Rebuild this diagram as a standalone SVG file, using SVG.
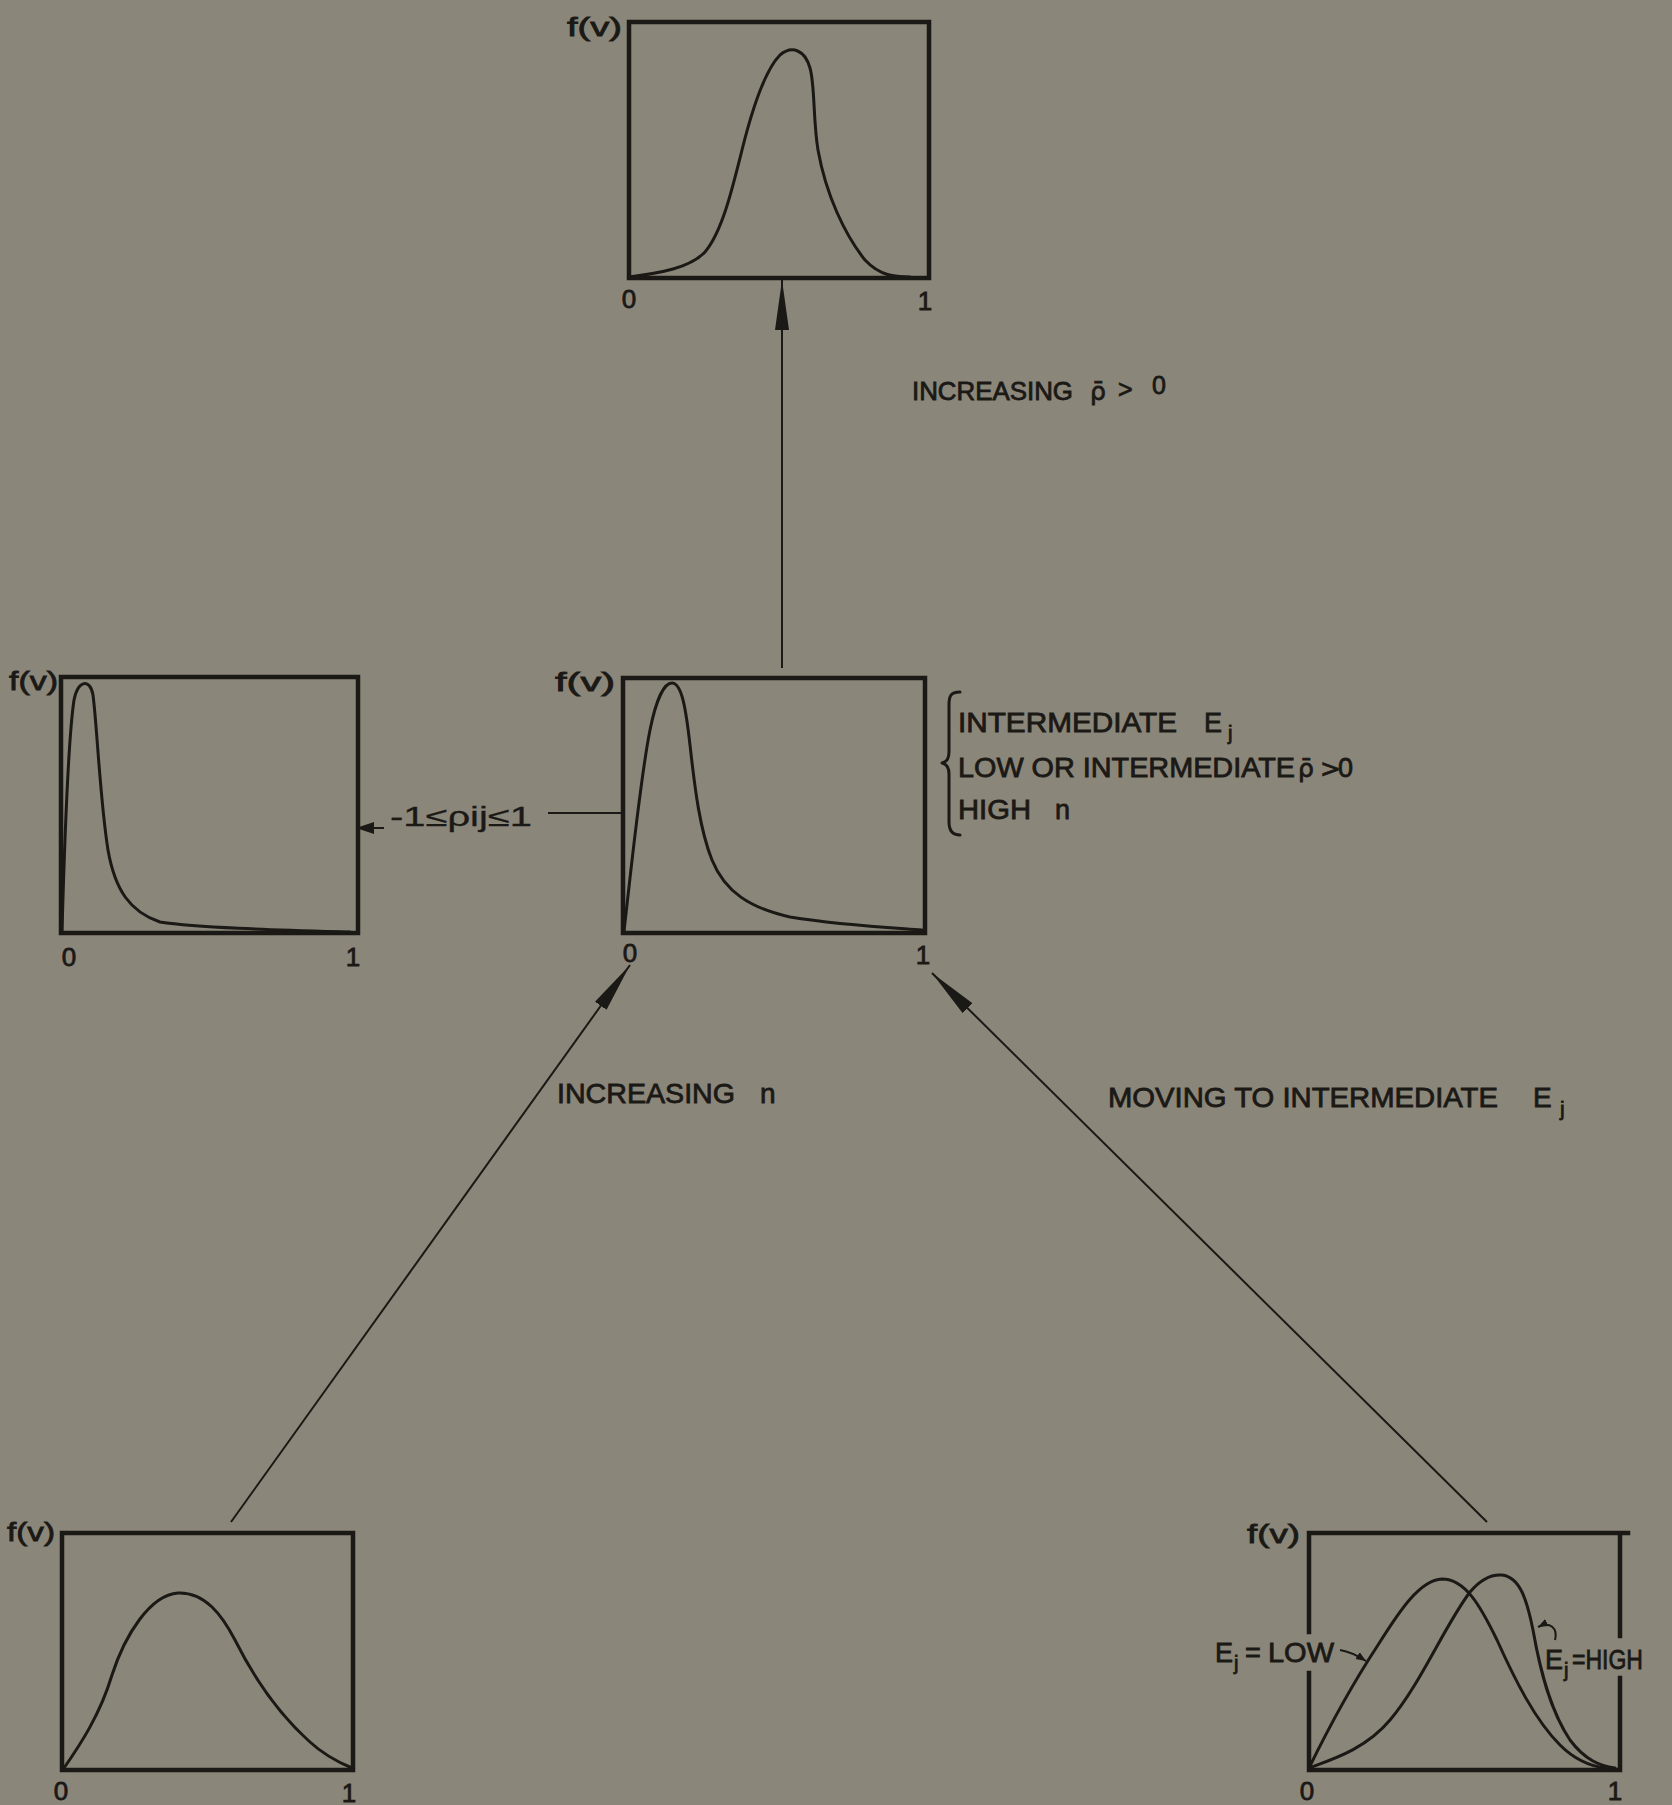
<svg xmlns="http://www.w3.org/2000/svg" width="1672" height="1805" viewBox="0 0 1672 1805">
<style>
.bg{fill:#8b867a}
.box{fill:none;stroke:#1b1915;stroke-width:4.5;stroke-linecap:square}
.crv{fill:none;stroke:#1b1915;stroke-width:3;stroke-linecap:round;stroke-linejoin:round}
.con{fill:none;stroke:#1b1915;stroke-width:2}
.t{font-family:"Liberation Sans",Arial,sans-serif;fill:#1b1915;stroke:#1b1915;stroke-width:0.8}
.lab{font-size:27px}
.ax{font-size:26px;text-anchor:middle}
.fv{font-size:26px}
.sub{font-size:20px}
</style>
<defs>
<marker id="ah" markerUnits="userSpaceOnUse" viewBox="0 -8 50 16" refX="50" refY="0" markerWidth="50" markerHeight="16" orient="auto">
<path d="M0,-7 L50,0 L0,7 Q-3,0 0,-7 Z" fill="#1b1915"/>
</marker>
<marker id="ahs" markerUnits="userSpaceOnUse" viewBox="0 -7 18 14" refX="18" refY="0" markerWidth="18" markerHeight="14" orient="auto">
<path d="M0,-6 L18,0 L0,6 Z" fill="#1b1915"/>
</marker>
<marker id="aht" markerUnits="userSpaceOnUse" viewBox="0 -5 10 10" refX="10" refY="0" markerWidth="10" markerHeight="10" orient="auto">
<path d="M0,-4 L10,0 L0,4 Z" fill="#1b1915"/>
</marker>
</defs>
<rect class="bg" x="0" y="0" width="1672" height="1805"/>

<g id="node-top">
<rect class="box" x="629" y="22" width="300" height="256"/>
<path class="crv" d="M629,277 C660,273 690,268 705,252 C722,232 732,190 742,150 C752,110 765,70 780,55 C792,45 805,50 810,68 C815,85 813,120 818,150 C826,195 845,235 865,260 C880,276 895,277 910,277"/>
<text class="t fv" x="567" y="36" textLength="55" lengthAdjust="spacingAndGlyphs">f(v)</text>
<text class="t ax" x="629" y="308">0</text>
<text class="t ax" x="925" y="310">1</text>
</g>

<g id="node-left">
<rect class="box" x="61" y="677" width="297" height="256"/>
<path class="crv" d="M62,932 C64,860 68,740 74,700 C78,680 90,678 93,695 C97,725 100,800 108,850 C115,890 130,912 160,922 C200,928 280,930 350,932"/>
<text class="t fv" x="9" y="690" textLength="49" lengthAdjust="spacingAndGlyphs">f(v)</text>
<text class="t ax" x="69" y="966">0</text>
<text class="t ax" x="353" y="966">1</text>
</g>

<g id="node-middle">
<rect class="box" x="623" y="678" width="302" height="255"/>
<path class="crv" d="M624,931 C630,880 640,780 650,730 C656,700 664,683 672,683 C682,683 686,710 690,745 C695,790 700,830 712,860 C725,892 750,908 790,917 C840,925 880,927 922,930"/>
<text class="t fv" x="555" y="691" textLength="60" lengthAdjust="spacingAndGlyphs">f(v)</text>
<text class="t ax" x="630" y="962">0</text>
<text class="t ax" x="923" y="964">1</text>
<path class="crv" d="M960,692 C950,692 949,697 949,705 L949,752 C949,758 947,762 942,763 C947,764 949,768 949,774 L949,822 C949,830 952,835 960,835"/>
<text class="t lab" x="958" y="732" textLength="219" lengthAdjust="spacingAndGlyphs">INTERMEDIATE</text>
<text class="t lab" x="1204" y="732">E<tspan class="sub" x="1228" y="740">j</tspan></text>
<text class="t lab" x="958" y="777" textLength="337" lengthAdjust="spacingAndGlyphs">LOW OR INTERMEDIATE</text>
<text class="t lab" x="1298" y="777" style="font-family:'DejaVu Sans',sans-serif;font-size:25px">ρ̄<tspan x="1320">&gt;</tspan><tspan x="1338" style="font-family:'Liberation Sans',sans-serif;font-size:27px">0</tspan></text>
<text class="t lab" x="958" y="819" textLength="73" lengthAdjust="spacingAndGlyphs">HIGH</text>
<text class="t lab" x="1055" y="819">n</text>
</g>

<g id="node-bottom-left">
<rect class="box" x="62" y="1533" width="291" height="237"/>
<path class="crv" d="M64,1768 C80,1745 100,1715 112,1675 C125,1635 150,1595 178,1593 C205,1592 222,1615 235,1640 C255,1680 280,1715 310,1742 C325,1756 340,1763 352,1768"/>
<text class="t fv" x="7" y="1541" textLength="48" lengthAdjust="spacingAndGlyphs">f(v)</text>
<text class="t ax" x="61" y="1800">0</text>
<text class="t ax" x="349" y="1802">1</text>
</g>

<g id="node-bottom-right">
<path class="box" d="M1309,1632 L1309,1533 L1628,1533 M1620,1533 L1620,1636 M1620,1678 L1620,1770 L1309,1770 L1309,1673"/>
<path class="crv" d="M1309,1768 C1330,1725 1355,1680 1378,1645 C1400,1610 1420,1580 1442,1579 C1465,1579 1480,1605 1497,1640 C1515,1680 1535,1720 1560,1745 C1575,1760 1590,1766 1605,1768"/>
<path class="crv" d="M1309,1768 C1330,1760 1365,1750 1390,1720 C1420,1685 1445,1625 1470,1592 C1480,1580 1490,1574 1502,1575 C1520,1577 1527,1600 1533,1630 C1540,1670 1550,1710 1570,1740 C1585,1760 1600,1766 1615,1768"/>
<text class="t fv" x="1247" y="1543" textLength="53" lengthAdjust="spacingAndGlyphs">f(v)</text>
<text class="t ax" x="1307" y="1800">0</text>
<text class="t ax" x="1615" y="1800">1</text>
<text class="t lab" x="1215" y="1662">E<tspan class="sub" x="1234" y="1670">j</tspan><tspan x="1245" y="1662">=</tspan><tspan x="1268" y="1662" textLength="66" lengthAdjust="spacingAndGlyphs">LOW</tspan></text>
<path class="con" d="M1340,1650 Q1352,1652 1366,1661" marker-end="url(#aht)"/>
<text class="t lab" x="1545" y="1669">E<tspan class="sub" x="1564" y="1677">j</tspan><tspan x="1572" y="1669" textLength="71" lengthAdjust="spacingAndGlyphs">=HIGH</tspan></text>
<path class="con" d="M1555,1640 C1558,1628 1550,1621 1538,1627" marker-end="url(#aht)"/>
</g>

<g id="connectors">
<line class="con" x1="782" y1="668" x2="782" y2="280" marker-end="url(#ah)"/>
<line class="con" x1="623" y1="813" x2="548" y2="813"/>
<line class="con" x1="384" y1="828" x2="356" y2="828" marker-end="url(#ahs)"/>
<line class="con" x1="231" y1="1522" x2="630" y2="965" marker-end="url(#ah)"/>
<line class="con" x1="1487" y1="1522" x2="932" y2="973" marker-end="url(#ah)"/>
</g>

<g id="labels">
<text class="t" x="912" y="400" style="font-size:25px"><tspan textLength="161" lengthAdjust="spacingAndGlyphs">INCREASING</tspan><tspan x="1090" style="font-family:'DejaVu Sans',sans-serif">ρ̄</tspan><tspan x="1118" y="398">&gt;</tspan><tspan x="1152" y="394">0</tspan></text>
<text class="t" x="390" y="826" style="font-size:27px;stroke-width:0.3" textLength="142" lengthAdjust="spacingAndGlyphs">-1≤ρij≤1</text>
<text class="t" x="557" y="1103" style="font-size:28px"><tspan textLength="178" lengthAdjust="spacingAndGlyphs">INCREASING</tspan><tspan x="760">n</tspan></text>
<text class="t" x="1108" y="1107" style="font-size:28px"><tspan textLength="390" lengthAdjust="spacingAndGlyphs">MOVING TO INTERMEDIATE</tspan><tspan x="1533">E</tspan><tspan x="1560" y="1116" style="font-size:21px">j</tspan></text>
</g>
</svg>
